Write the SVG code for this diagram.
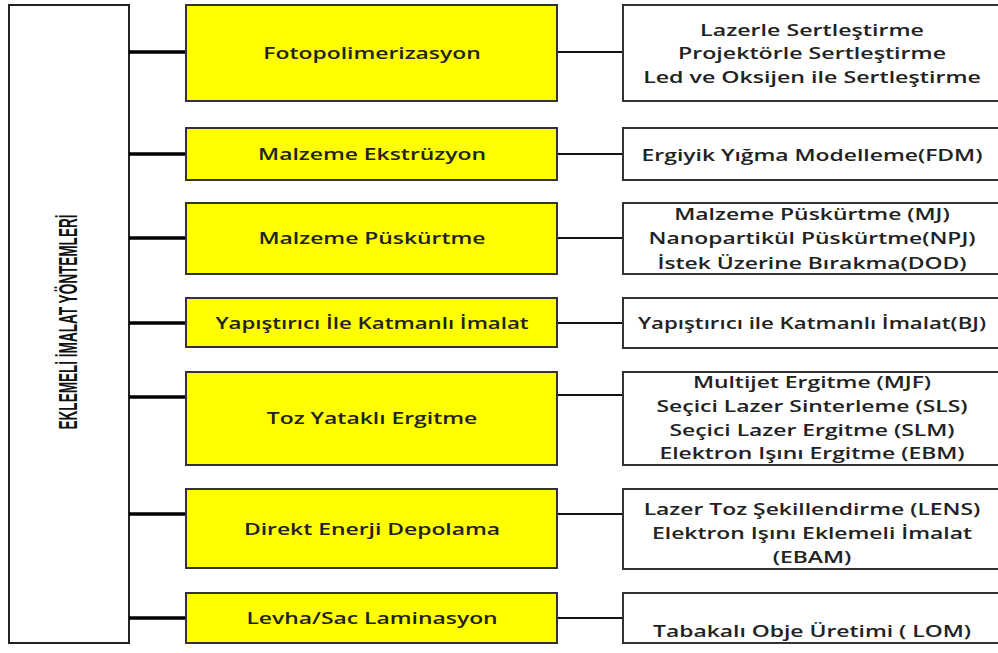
<svg xmlns="http://www.w3.org/2000/svg" width="998" height="653" viewBox="0 0 998 653">
<style>
.main{fill:#fff;stroke:#222;stroke-width:2}
.y{fill:#ffff00;stroke:#333;stroke-width:2}
.r{fill:#fff;stroke:#333;stroke-width:2}
.t{font-family:"Open Sans","Noto Sans",sans-serif;font-size:16px;font-weight:600;fill:#222;text-anchor:middle}
.cl{stroke:#000;stroke-width:3.5}
.cr{stroke:#111;stroke-width:2}
.v{font-family:"Liberation Sans Narrow","Liberation Sans",sans-serif;font-weight:bold;font-size:25px;fill:#111;text-anchor:middle}
</style>
<rect width="998" height="653" fill="#fff"/>
<g id="root">
<rect class="main" x="9" y="5" width="120" height="638"/>
<text class="v" transform="translate(77,322) rotate(-90)" textLength="215" lengthAdjust="spacingAndGlyphs">EKLEMELİ İMALAT YÖNTEMLERİ</text>
</g>
<g id="connectors">
<line class="cl" x1="129" y1="52" x2="186" y2="52"/>
<line class="cl" x1="129" y1="154" x2="186" y2="154"/>
<line class="cl" x1="129" y1="238" x2="186" y2="238"/>
<line class="cl" x1="129" y1="323" x2="186" y2="323"/>
<line class="cl" x1="129" y1="397" x2="186" y2="397"/>
<line class="cl" x1="129" y1="514" x2="186" y2="514"/>
<line class="cl" x1="129" y1="618" x2="186" y2="618"/>
<line class="cr" x1="557" y1="52" x2="623" y2="52"/>
<line class="cr" x1="557" y1="154" x2="623" y2="154"/>
<line class="cr" x1="557" y1="238" x2="623" y2="238"/>
<line class="cr" x1="557" y1="323" x2="623" y2="323"/>
<line class="cr" x1="557" y1="395" x2="623" y2="395"/>
<line class="cr" x1="557" y1="514" x2="623" y2="514"/>
<line class="cr" x1="557" y1="618" x2="623" y2="618"/>
</g>
<g id="n1"><rect class="y" x="186" y="5" width="371" height="96"/><g transform="translate(372,0) scale(1.43,1)"><text class="t" x="0" y="59">Fotopolimerizasyon</text></g></g>
<g id="n2"><rect class="y" x="186" y="128" width="371" height="52"/><g transform="translate(372,0) scale(1.43,1)"><text class="t" x="0" y="160">Malzeme Ekstrüzyon</text></g></g>
<g id="n3"><rect class="y" x="186" y="203" width="371" height="71"/><g transform="translate(372,0) scale(1.43,1)"><text class="t" x="0" y="244">Malzeme Püskürtme</text></g></g>
<g id="n4"><rect class="y" x="186" y="298" width="371" height="49"/><g transform="translate(372,0) scale(1.39,1)"><text class="t" x="0" y="329">Yapıştırıcı İle Katmanlı İmalat</text></g></g>
<g id="n5"><rect class="y" x="186" y="372" width="371" height="93"/><g transform="translate(372,0) scale(1.43,1)"><text class="t" x="0" y="424">Toz Yataklı Ergitme</text></g></g>
<g id="n6"><rect class="y" x="186" y="489" width="371" height="79"/><g transform="translate(372,0) scale(1.43,1)"><text class="t" x="0" y="535">Direkt Enerji Depolama</text></g></g>
<g id="n7"><rect class="y" x="186" y="593" width="371" height="50"/><g transform="translate(372,0) scale(1.43,1)"><text class="t" x="0" y="624">Levha/Sac Laminasyon</text></g></g>
<g id="r1"><rect class="r" x="623" y="5" width="376" height="96"/><g transform="translate(812,0) scale(1.45,1)">
<text class="t" x="0" y="36">Lazerle Sertleştirme</text>
<text class="t" x="0" y="59">Projektörle Sertleştirme</text>
<text class="t" x="0" y="83">Led ve Oksijen ile Sertleştirme</text></g></g>
<g id="r2"><rect class="r" x="623" y="128" width="376" height="52"/><g transform="translate(812,0) scale(1.43,1)"><text class="t" x="0" y="161">Ergiyik Yığma Modelleme(FDM)</text></g></g>
<g id="r3"><rect class="r" x="623" y="203" width="376" height="71"/><g transform="translate(812,0) scale(1.43,1)">
<text class="t" x="0" y="220">Malzeme Püskürtme (MJ)</text>
<text class="t" x="0" y="244">Nanopartikül Püskürtme(NPJ)</text>
<text class="t" x="0" y="269">İstek Üzerine Bırakma(DOD)</text></g></g>
<g id="r4"><rect class="r" x="623" y="298" width="376" height="50"/><g transform="translate(812,0) scale(1.39,1)"><text class="t" x="0" y="329">Yapıştırıcı ile Katmanlı İmalat(BJ)</text></g></g>
<g id="r5"><rect class="r" x="623" y="372" width="376" height="93"/><g transform="translate(812,0) scale(1.43,1)">
<text class="t" x="0" y="388">Multijet Ergitme (MJF)</text>
<text class="t" x="0" y="412">Seçici Lazer Sinterleme (SLS)</text>
<text class="t" x="0" y="436">Seçici Lazer Ergitme (SLM)</text>
<text class="t" x="0" y="459">Elektron Işını Ergitme (EBM)</text></g></g>
<g id="r6"><rect class="r" x="623" y="489" width="376" height="80"/><g transform="translate(812,0) scale(1.43,1)">
<text class="t" x="0" y="515">Lazer Toz Şekillendirme (LENS)</text>
<text class="t" x="0" y="539">Elektron Işını Eklemeli İmalat</text>
<text class="t" x="0" y="563">(EBAM)</text></g></g>
<g id="r7"><rect class="r" x="623" y="593" width="376" height="50"/><g transform="translate(812,0) scale(1.43,1)"><text class="t" x="0" y="637">Tabakalı Obje Üretimi ( LOM)</text></g></g>
</svg>
